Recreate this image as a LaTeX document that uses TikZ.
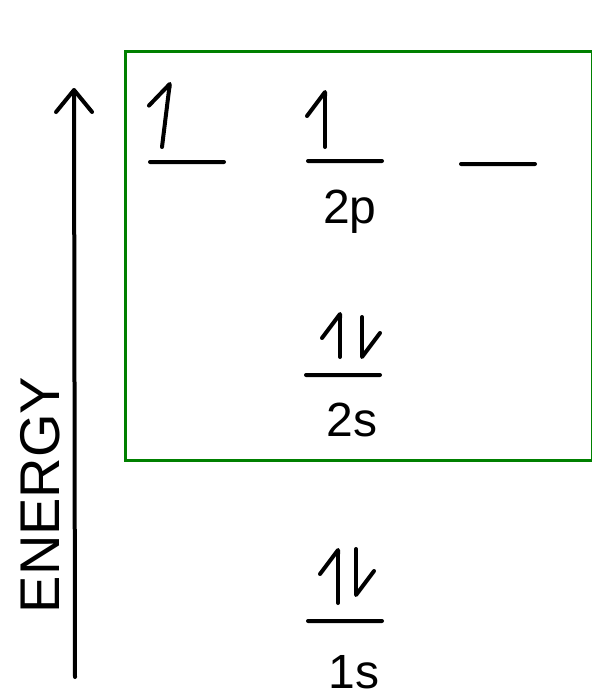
\documentclass[tikz,border=0pt]{standalone}
\usepackage{fontspec}
\setmainfont{Liberation Sans}
\usetikzlibrary{arrows.meta, positioning}
\definecolor{framegreen}{HTML}{008000}

\begin{document}
\begin{tikzpicture}[
    x=0.5pt, y=-0.5pt,
    orb/.style={rectangle, fill=black, minimum width=39pt, minimum height=2pt,
                inner sep=0pt, rounded corners=1pt},
    spin/.style={line width=2pt, line cap=round,
                 -{Straight Barb[left, length=12pt, width=18pt, round]}},
    axis/.style={line width=2pt, line cap=round,
                 -{Straight Barb[length=11pt, width=18pt, round]}},
    frame/.style={draw=framegreen, line width=1.5pt},
    lab/.style={font=\fontsize{24}{28}\selectfont, inner sep=0pt}
  ]
    \useasboundingbox (0,0) rectangle (592,696);

    % valence shell
    \draw[frame] (125,51) rectangle (592,460);

    % energy axis
    \coordinate (ebot) at (75,677);
    \coordinate (etop) at (74,88);
    \draw[axis] (ebot) -- (etop);
    \node[rotate=90, font=\fontsize{28}{32}\selectfont] (en) at (40,495) {ENERGY};

    % orbitals
    \node[orb] (p1) at (187,162) {};
    \node[orb] (p2) at (345,161) {};
    \node[orb] (p3) at (498,164) {};
    \node[orb] (s2) at (343,375) {};
    \node[orb] (s1) at (345,621) {};

    \node[lab] (l2p) at (350,212) {2p};
    \node[lab] (l2s) at (352,420) {2s};
    \node[lab] (l1s) at (354,672) {1s};

    % electrons
    \draw[spin] ([shift={(-25,-15)}]p1.center) -- ++(8,-65);
    \draw[spin] ([shift={(-20,-14)}]p2.center) -- ++(0,-57);
    \draw[spin] ([shift={(-3,-18)}]s2.center) -- ++(0,-45);
    \draw[spin] ([shift={(19,-58)}]s2.center) -- ++(0,42);
    \draw[spin] ([shift={(-7,-18)}]s1.center) -- ++(0,-55);
    \draw[spin] ([shift={(11,-72)}]s1.center) -- ++(0,48);
  \end{tikzpicture}
\end{document}
